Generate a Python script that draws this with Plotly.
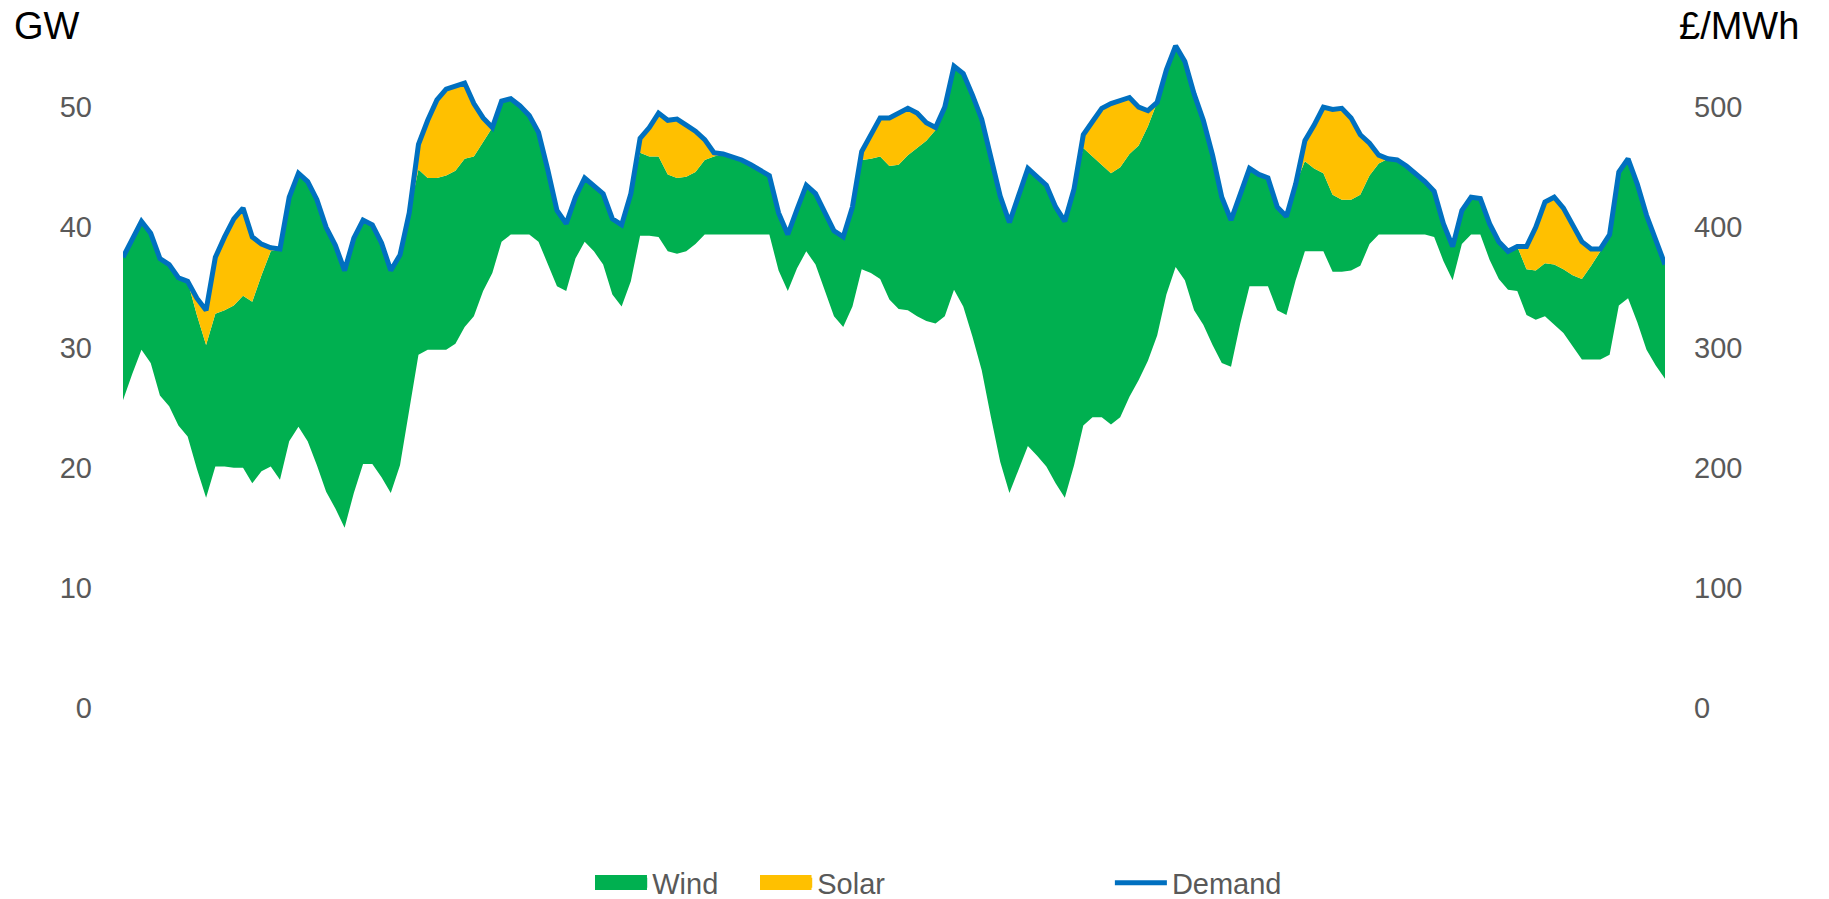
import plotly.graph_objects as go

# Hourly system data over one week (168 hours), GW
hours = list(range(168))

demand = [
    37.5, 39.0, 40.5, 39.5, 37.4, 36.9, 35.8, 35.5, 34.1, 33.1,
    37.5, 39.2, 40.7, 41.6, 39.2, 38.6, 38.3, 38.2, 42.5, 44.5,
    43.8, 42.3, 40.0, 38.5, 36.4, 39.1, 40.6, 40.2, 38.7, 36.4,
    37.7, 41.2, 46.9, 48.9, 50.6, 51.5, 51.7, 52.0, 50.3, 49.1,
    48.3, 50.5, 50.7, 50.1, 49.3, 47.9, 44.8, 41.4, 40.3, 42.5,
    44.1, 43.4, 42.8, 40.7, 40.2, 42.8, 47.4, 48.3, 49.5, 48.9,
    49.0, 48.5, 48.0, 47.3, 46.2, 46.1, 45.9, 45.6, 45.2, 44.8,
    44.3, 41.2, 39.4, 41.5, 43.5, 42.8, 41.3, 39.7, 39.2, 41.7,
    46.3, 47.7, 49.1, 49.1, 49.5, 49.9, 49.5, 48.7, 48.3, 50.0,
    53.4, 52.8, 51.0, 49.0, 45.8, 42.6, 40.4, 42.7, 44.9, 44.2,
    43.5, 41.7, 40.5, 43.2, 47.7, 48.8, 49.9, 50.3, 50.6, 50.8,
    50.0, 49.7, 50.4, 53.1, 55.1, 53.8, 51.1, 48.9, 46.0, 42.5,
    40.6, 42.8, 44.9, 44.4, 44.1, 41.7, 40.9, 43.6, 47.2, 48.5,
    50.0, 49.8, 49.9, 49.1, 47.7, 47.0, 46.0, 45.7, 45.6, 45.1,
    44.5, 43.8, 43.0, 40.3, 38.4, 41.4, 42.5, 42.4, 40.3, 38.8,
    38.0, 38.4, 38.4, 40.0, 42.1, 42.5, 41.6, 40.2, 38.8, 38.2,
    38.2, 39.4, 44.6, 45.7, 43.6, 41.0, 38.9, 36.9,
]

# Generation below wind (drawn as an unfilled base for the stack)
other = [
    25.6, 27.8, 29.8, 28.7, 26.0, 25.1, 23.5, 22.6, 19.9, 17.5,
    20.1, 20.1, 20.0, 20.0, 18.7, 19.7, 20.1, 19.0, 22.2, 23.4,
    22.2, 20.2, 18.0, 16.6, 15.0, 17.9, 20.3, 20.3, 19.2, 17.9,
    20.2, 24.8, 29.4, 29.8, 29.8, 29.8, 30.3, 31.7, 32.6, 34.7,
    36.2, 38.8, 39.4, 39.4, 39.4, 38.8, 37.0, 35.1, 34.7, 37.4,
    38.8, 38.0, 36.9, 34.4, 33.4, 35.5, 39.3, 39.3, 39.2, 38.0,
    37.8, 38.0, 38.6, 39.4, 39.4, 39.4, 39.4, 39.4, 39.4, 39.4,
    39.4, 36.4, 34.7, 36.6, 38.0, 36.9, 34.8, 32.6, 31.7, 33.4,
    36.5, 36.2, 35.7, 34.0, 33.2, 33.1, 32.6, 32.2, 32.0, 32.6,
    34.8, 33.4, 30.9, 28.1, 24.2, 20.5, 17.9, 19.8, 21.8, 21.0,
    20.1, 18.7, 17.5, 20.2, 23.5, 24.2, 24.2, 23.6, 24.2, 25.9,
    27.3, 28.9, 31.0, 34.4, 36.7, 35.6, 33.1, 31.9, 30.2, 28.7,
    28.4, 32.0, 35.1, 35.1, 35.1, 33.1, 32.7, 35.6, 38.0, 38.0,
    38.0, 36.3, 36.3, 36.4, 36.8, 38.6, 39.4, 39.4, 39.4, 39.4,
    39.4, 39.4, 39.2, 37.2, 35.6, 38.6, 39.4, 39.4, 37.3, 35.7,
    34.8, 34.7, 32.7, 32.3, 32.6, 31.9, 31.2, 30.1, 29.0, 29.0,
    29.0, 29.4, 33.5, 34.1, 32.1, 29.8, 28.5, 27.4,
]

wind = [
    11.9, 11.2, 10.7, 10.8, 11.4, 11.8, 12.3, 12.9, 12.8, 12.7,
    12.7, 13.0, 13.5, 14.3, 15.1, 16.3, 17.9, 19.2, 20.3, 21.1,
    21.6, 22.1, 22.0, 21.9, 21.4, 21.2, 20.3, 19.9, 19.5, 18.5,
    17.5, 16.4, 15.4, 14.3, 14.3, 14.5, 14.4, 14.0, 13.3, 12.4,
    12.1, 11.7, 11.3, 10.7, 9.9, 9.1, 7.8, 6.3, 5.6, 5.1,
    5.3, 5.4, 5.9, 6.3, 6.8, 7.3, 6.9, 6.6, 6.7, 6.4,
    6.3, 6.2, 6.0, 6.2, 6.5, 6.7, 6.5, 6.2, 5.8, 5.4,
    4.9, 4.8, 4.7, 4.9, 5.5, 5.9, 6.5, 7.1, 7.5, 8.3,
    9.1, 9.5, 10.2, 11.1, 12.0, 12.9, 14.0, 15.0, 16.1, 17.4,
    18.6, 19.4, 20.1, 20.9, 21.6, 22.1, 22.5, 22.9, 23.1, 23.2,
    23.4, 23.0, 23.0, 23.0, 23.1, 21.7, 21.0, 20.9, 20.8, 20.2,
    19.5, 19.5, 19.4, 18.7, 18.4, 18.2, 18.0, 17.0, 15.8, 13.8,
    12.2, 10.8, 9.8, 9.3, 9.0, 8.6, 8.2, 8.0, 7.5, 6.9,
    6.5, 6.4, 6.0, 5.9, 5.9, 5.7, 5.9, 6.3, 6.2, 5.7,
    5.1, 4.4, 3.8, 3.1, 2.8, 2.8, 3.1, 3.0, 3.0, 3.1,
    3.2, 3.7, 3.8, 4.1, 4.4, 5.0, 5.3, 5.9, 6.7, 7.8,
    9.0, 10.0, 11.1, 11.6, 11.5, 11.2, 10.4, 9.5,
]

solar = [
    0, 0, 0, 0, 0, 0, 0, 0, 1.4, 2.9,
    4.7, 6.1, 7.2, 7.3, 5.4, 2.6, 0.3, 0, 0, 0,
    0, 0, 0, 0, 0, 0, 0, 0, 0, 0,
    0, 0, 2.1, 4.8, 6.5, 7.2, 7.0, 6.3, 4.4, 2.0,
    0, 0, 0, 0, 0, 0, 0, 0, 0, 0,
    0, 0, 0, 0, 0, 0, 1.2, 2.4, 3.6, 4.5,
    4.9, 4.3, 3.4, 1.7, 0.3, 0, 0, 0, 0, 0,
    0, 0, 0, 0, 0, 0, 0, 0, 0, 0,
    0.7, 2.0, 3.2, 4.0, 4.3, 3.9, 2.9, 1.5, 0.2, 0,
    0, 0, 0, 0, 0, 0, 0, 0, 0, 0,
    0, 0, 0, 0, 1.1, 2.9, 4.7, 5.8, 5.6, 4.7,
    3.2, 1.3, 0, 0, 0, 0, 0, 0, 0, 0,
    0, 0, 0, 0, 0, 0, 0, 0, 1.7, 3.6,
    5.5, 7.1, 7.6, 6.8, 5.0, 2.7, 0.7, 0, 0, 0,
    0, 0, 0, 0, 0, 0, 0, 0, 0, 0,
    0, 0, 1.9, 3.6, 5.1, 5.6, 5.1, 4.2, 3.1, 1.4,
    0.2, 0, 0, 0, 0, 0, 0, 0,
]

GREEN = "#00B050"
YELLOW = "#FFC000"
BLUE = "#0070C0"
GREY = "#595959"
FONT = "Liberation Sans, Arial, sans-serif"

LEGEND_Y = -0.2600

fig = go.Figure()

# Unfilled base of the stack
fig.add_trace(go.Scatter(
    x=hours, y=other, stackgroup="gen", mode="lines",
    line=dict(width=0, color="rgba(0,0,0,0)"), fillcolor="rgba(0,0,0,0)",
    showlegend=False, hoverinfo="skip",
))
fig.add_trace(go.Scatter(
    x=hours, y=wind, name="Wind", stackgroup="gen", mode="lines",
    line=dict(width=0, color=GREEN), fillcolor=GREEN,
    showlegend=False, legendgroup="wind",
))
fig.add_trace(go.Scatter(
    x=hours, y=solar, name="Solar", stackgroup="gen", mode="lines",
    line=dict(width=0, color=YELLOW), fillcolor=YELLOW,
    showlegend=False, legendgroup="solar",
))
fig.add_trace(go.Scatter(
    x=hours, y=demand, name="Demand", mode="lines",
    line=dict(width=5, color=BLUE), legend="legend2",
))

# Legend keys for the two filled series
for name, colour, grp in [("Wind", GREEN, "wind"), ("Solar", YELLOW, "solar")]:
    fig.add_trace(go.Scatter(
        x=[None], y=[None], name=name, mode="lines", legendgroup=grp,
        line=dict(width=10, color=colour), hoverinfo="skip",
    ))

# Price axis carrier (right-hand scale)
fig.add_trace(go.Scatter(
    x=[None], y=[None], yaxis="y2", showlegend=False, hoverinfo="skip",
))

# Full-height blocks behind the Wind / Solar legend keys
key_blocks = [
    dict(type="rect", xref="paper", yref="paper", x0=0.3061, x1=0.3398,
         y0=-0.2704, y1=-0.2481, fillcolor=GREEN, line=dict(width=0),
         layer="above"),
    dict(type="rect", xref="paper", yref="paper", x0=0.4131, x1=0.4465,
         y0=-0.2704, y1=-0.2481, fillcolor=YELLOW, line=dict(width=0),
         layer="above"),
]

fig.update_layout(
    width=1829, height=899,
    margin=dict(l=123, r=164, t=35, b=191, autoexpand=False),
    paper_bgcolor="white", plot_bgcolor="white",
    font=dict(family=FONT, color=GREY, size=29),
    xaxis=dict(range=[0, 167], showgrid=False, zeroline=False,
               showticklabels=False, showline=False, ticks=""),
    yaxis=dict(range=[0, 56], tickvals=[0, 10, 20, 30, 40, 50],
               showgrid=False, zeroline=False, showline=False,
               tickfont=dict(size=29, color=GREY), ticklabelstandoff=30),
    yaxis2=dict(range=[0, 560], tickvals=[0, 100, 200, 300, 400, 500],
                overlaying="y", side="right", showgrid=False,
                zeroline=False, showline=False,
                tickfont=dict(size=29, color=GREY), ticklabelstandoff=28),
    legend=dict(orientation="h", x=0.303, xanchor="left", y=LEGEND_Y,
                yanchor="middle", font=dict(size=29, color=GREY),
                itemwidth=52, entrywidth=98, traceorder="normal",
                bgcolor="rgba(0,0,0,0)"),
    legend2=dict(orientation="h", x=0.64, xanchor="left", y=LEGEND_Y,
                 yanchor="middle", font=dict(size=29, color=GREY),
                 itemwidth=52, bgcolor="rgba(0,0,0,0)"),
    shapes=key_blocks,
    annotations=[
        dict(text="GW", xref="paper", yref="paper", x=-0.072, y=1.013,
             xanchor="left", yanchor="middle", showarrow=False,
             font=dict(size=38, color="black", family=FONT)),
        dict(text="£/MWh", xref="paper", yref="paper", x=1.0078, y=1.013,
             xanchor="left", yanchor="middle", showarrow=False,
             font=dict(size=38, color="black", family=FONT)),
    ],
)

fig.write_html("out.html")
